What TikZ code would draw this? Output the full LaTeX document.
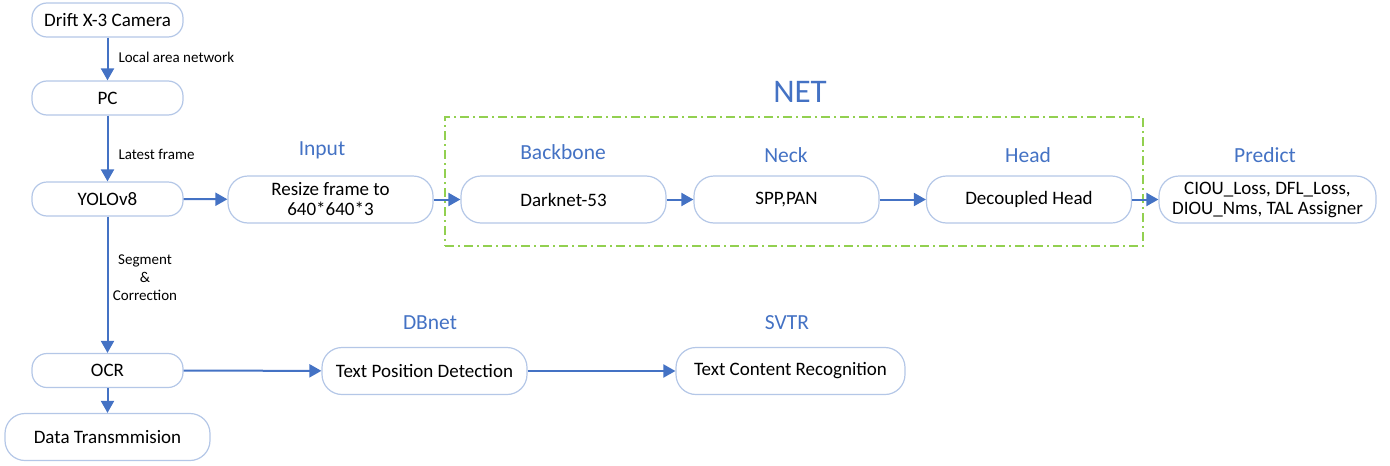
\documentclass[tikz,border=0pt]{standalone}
\usepackage{fontspec}
\setmainfont{Carlito}
\usetikzlibrary{arrows.meta}
\definecolor{boxline}{RGB}{180,199,231}
\definecolor{flow}{RGB}{68,114,196}
\definecolor{netgreen}{RGB}{146,208,80}
\tikzset{
  stage/.style={draw=boxline, line width=1.2pt, rounded corners=15pt, fill=white,
    minimum width=151pt, minimum height=34pt, inner sep=0pt, align=center,
    font=\fontsize{19}{21}\selectfont},
  bigstage/.style={stage, rounded corners=20pt, minimum width=205pt, minimum height=47pt},
  flowarrow/.style={draw=flow, line width=2pt, -{Triangle[length=12pt,width=13pt]}},
  title/.style={text=flow, font=\fontsize{21.5}{24}\selectfont},
  note/.style={font=\fontsize{15}{17}\selectfont, align=center},
}
\begin{document}
\begin{tikzpicture}[x=1pt,y=-1pt]
\useasboundingbox (0,0) rectangle (1390,466);

% left column
\node[stage] (cam)  at (107.5,20)  {Drift X-3 Camera};
\node[stage] (pc)   at (107.5,98)  {PC};
\node[stage] (yolo) at (107.5,199) {YOLOv8};
\node[stage] (ocr)  at (107.5,370.5) {OCR};
\node[bigstage] (data) at (107.5,437) {Data Transmmision};

% detection pipeline
\node[bigstage] (resize) at (330.5,199.5) {Resize frame to\\[-1pt]640*640*3};
\node[bigstage] (dark)   at (563.5,199.5) {Darknet-53};
\node[bigstage, minimum width=185pt] (neck) at (786.5,199.5) {SPP,PAN};
\node[bigstage] (head)   at (1029,199.5) {Decoupled Head};
\node[bigstage, minimum width=217pt] (pred) at (1267.5,199.5) {CIOU\_Loss, DFL\_Loss,\\[-1pt]DIOU\_Nms, TAL Assigner};

% OCR pipeline
\node[bigstage] (pos) at (424.5,371) {Text Position Detection};
\node[bigstage, minimum width=229pt] (rec) at (790.5,371) {Text Content Recognition};

% NET frame
\node[draw=netgreen, line width=1.3pt, dash pattern=on 9pt off 4pt on 2pt off 4pt,
      minimum width=698pt, minimum height=129pt, inner sep=0pt] (net) at (794,181.5) {};
\node[text=flow, font=\fontsize{33}{36}\selectfont] (nettitle) at (800,92) {NET};

% stage titles
\node[title] (tin)   at (322,150) {Input};
\node[title] (tbb)   at (563,152) {Backbone};
\node[title] (tneck) at (786,155) {Neck};
\node[title] (thead) at (1028,155) {Head};
\node[title] (tpred) at (1265,155) {Predict};
\node[title] (tdb)   at (430,323) {DBnet};
\node[title] (tsv)   at (787,323) {SVTR};

% connectors
\draw[flowarrow] (cam) -- (pc);
\node[note, anchor=west] (lanlabel) at (115,57) {Local area network};
\draw[flowarrow] (pc) -- (yolo);
\node[note, anchor=west] (framelabel) at (115,154) {Latest frame};
\draw[flowarrow] (yolo) -- (ocr);
\node[note, font=\fontsize{15}{18}\selectfont] (seglabel) at (145,278) {Segment\\\&\\Correction};
\draw[flowarrow] (ocr) -- (data);
\draw[flowarrow] (yolo) -- (resize);
\draw[flowarrow] (resize) -- (dark);
\draw[flowarrow] (dark) -- (neck);
\draw[flowarrow] (neck) -- (head);
\draw[flowarrow] (head) -- (pred);
\draw[flowarrow] (ocr) -- (pos);
\draw[flowarrow] (pos) -- (rec);
\end{tikzpicture}
\end{document}
